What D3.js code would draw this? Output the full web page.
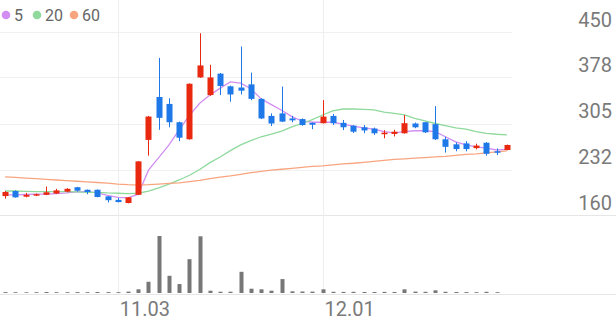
<!DOCTYPE html>
<html>
<head>
<meta charset="utf-8">
<script src="https://cdn.jsdelivr.net/npm/d3@7"></script>
<style>
  body { margin: 0; background: #fff; }
  svg { display: block; font-family: Roboto, "Noto Sans", sans-serif; }
</style>
</head>
<body>
<div id="chart"></div>
<script>
// 일자 (50 거래일)
const dates = [
  '10.17', '10.20', '10.21', '10.22', '10.23', '10.24', '10.27', '10.28', '10.29', '10.30',
  '10.31', '11.03', '11.04', '11.05', '11.06', '11.07', '11.10', '11.11', '11.12', '11.13',
  '11.14', '11.17', '11.18', '11.19', '11.20', '11.21', '11.24', '11.25', '11.26', '11.27',
  '11.28', '12.01', '12.02', '12.03', '12.04', '12.05', '12.08', '12.09', '12.10', '12.11',
  '12.12', '12.15', '12.16', '12.17', '12.18', '12.19', '12.22', '12.23', '12.24', '12.26'
];
const tickLabels = ['11.03', '12.01'];
const priceTicks = [160, 232, 305, 378, 450];

// 시가 / 종가 / 고가 / 저가
const openPrices = [190, 198, 189, 191, 192, 194, 197, 204, 200, 200,
  189.5, 184, 179, 192, 279, 347, 336, 307, 280, 378,
  350, 384, 364, 362, 367, 344, 317, 321, 313, 312,
  306, 305.5, 317, 306, 301.5, 299, 297, 288, 288.5, 289.5,
  305, 307, 304, 280, 272, 273.5, 266, 274.5, 261, 263];
const closePrices = [196.5, 188, 192, 193, 196, 199, 201.5, 198.5, 196.5, 188.5,
  183.5, 180.5, 188, 245, 316, 314, 307, 282.5, 368, 397,
  378, 364.5, 351, 357, 344, 313, 305, 308, 310, 302.5,
  303, 316, 305.5, 299, 292, 294, 289.5, 290.5, 292, 305.5,
  299, 291, 280, 268, 264.5, 264.5, 270, 257, 259, 271];
const highPrices = [198, 199, 195, 194, 205, 201.5, 202.5, 204.5, 200.5, 200.5,
  190, 187, 188.5, 245.5, 317, 409, 345, 308, 368.5, 448,
  398, 385, 365, 427, 385.5, 345, 321, 363.5, 317, 313,
  306.5, 342, 320, 310.5, 302.5, 302.5, 298.5, 294.5, 295, 318.5,
  306.5, 307.5, 332.5, 284, 275, 277, 273, 275.5, 265.5, 271.5];
const lowPrices = [186, 187.5, 188, 190, 191.5, 193.5, 196, 197, 193, 188,
  180, 180, 178.5, 191.5, 254, 295, 299, 277, 279.5, 377.5,
  349, 350, 339.5, 351, 342, 312, 301, 307.5, 307, 301.5,
  296, 305, 302.5, 294.5, 290, 289.5, 287, 281.5, 284.5, 289,
  297.5, 290, 279, 259, 261, 261, 264, 254, 255, 262.5];

// 이동평균선
const ma5 = [192, 192, 192.5, 193, 193, 194, 195, 196.5, 197, 195,
  191, 188, 187, 193, 231, 251, 271, 295, 318, 337,
  350, 361, 371, 369, 360, 344, 335, 326, 316, 309,
  307, 307, 307, 304, 301, 298, 296, 292, 290, 292,
  293.5, 293.5, 292, 284, 276, 271, 268, 266, 263, 264];
const ma20 = [198, 198, 197.5, 197, 197, 197, 197, 196.5, 196, 196,
  195, 194.5, 194, 194.5, 198, 203, 209, 215.5, 223, 232,
  243, 252, 262, 271, 278, 284, 288, 293, 299.5, 305,
  311, 318.5, 325, 328, 328, 327.5, 326.5, 323, 321, 318.5,
  313, 309, 305, 301.5, 298, 296, 292, 289.5, 288, 287];
const ma60 = [220.5, 219.5, 218.5, 217.5, 216.5, 215.5, 214.5, 213.5, 212.5, 211.5,
  210.5, 209, 208, 207.5, 208, 209, 210, 211, 213, 215,
  217.5, 220, 222, 224.5, 227, 229, 231, 232.5, 234, 235.5,
  237, 238, 239.5, 241, 242, 243.5, 245, 246.5, 248, 249,
  250, 251, 252, 253, 254.5, 256, 257, 258.5, 260, 261.5];

// 거래량
const volume = [9, 8, 7, 8, 10, 8, 8, 9, 8, 10,
  9, 8, 14, 37, 113, 573, 173, 90, 340, 570,
  23, 13, 13, 213, 43, 37, 23, 140, 17, 15,
  14, 37, 12, 11, 12, 10, 10, 11, 10, 37,
  14, 12, 27, 12, 10, 9, 8, 12, 8, 0];

const maSeries = [
  { name: '5', values: ma5, color: '#d28ef2' },
  { name: '20', values: ma20, color: '#8fd99c' },
  { name: '60', values: ma60, color: '#f8a57f' }
];

const upColor = '#e8290f';
const downColor = '#1f78e8';
const width = 616, height = 321;

const svg = d3.select('#chart').append('svg')
  .attr('width', width)
  .attr('height', height);

const x = d3.scaleBand().domain(dates).range([0, 512]);
const y = d3.scaleLinear().domain([160, 450]).range([215, 32]);
const yVol = d3.scaleLinear().domain([0, d3.max(volume)]).range([293, 236]);
const cx = d => x(d) + x.bandwidth() / 2;

// 가로 격자
svg.append('g')
  .selectAll('line')
  .data(priceTicks.filter(t => t !== 160))
  .join('line')
  .attr('x1', 0).attr('x2', 512)
  .attr('y1', d => Math.round(y(d)) + 0.5)
  .attr('y2', d => Math.round(y(d)) + 0.5)
  .attr('stroke', '#f0f0f0');

svg.append('line')
  .attr('x1', 0).attr('x2', width)
  .attr('y1', Math.round(y(160)) + 0.5).attr('y2', Math.round(y(160)) + 0.5)
  .attr('stroke', '#e6e6e6');

svg.append('line')
  .attr('x1', 0).attr('x2', width)
  .attr('y1', 294.5).attr('y2', 294.5)
  .attr('stroke', '#e6e6e6');

// 세로 격자
svg.append('g')
  .selectAll('line')
  .data(tickLabels)
  .join('line')
  .attr('x1', d => Math.round(cx(d)) + 0.5)
  .attr('x2', d => Math.round(cx(d)) + 0.5)
  .attr('y1', 0).attr('y2', 294)
  .attr('stroke', '#eeeeee');

// 이동평균선
const line = d3.line()
  .x((d, i) => cx(dates[i]))
  .y(d => y(d));

svg.append('g')
  .selectAll('path')
  .data(maSeries)
  .join('path')
  .attr('d', d => line(d.values))
  .attr('fill', 'none')
  .attr('stroke', d => d.color)
  .attr('stroke-width', 1.3);

// 캔들
const candles = dates.map((d, i) => ({
  date: d,
  open: openPrices[i],
  close: closePrices[i],
  high: highPrices[i],
  low: lowPrices[i]
}));
const bodyW = 6;

const cg = svg.append('g')
  .selectAll('g')
  .data(candles)
  .join('g')
  .attr('fill', d => d.close >= d.open ? upColor : downColor)
  .attr('stroke', d => d.close >= d.open ? upColor : downColor);

cg.append('line')
  .attr('x1', d => Math.round(cx(d.date)) + 0.5)
  .attr('x2', d => Math.round(cx(d.date)) + 0.5)
  .attr('y1', d => y(d.high))
  .attr('y2', d => y(d.low))
  .attr('stroke-width', 1);

cg.append('rect')
  .attr('x', d => Math.round(cx(d.date)) + 0.5 - bodyW / 2)
  .attr('width', bodyW)
  .attr('y', d => y(Math.max(d.open, d.close)))
  .attr('height', d => Math.max(1.5, Math.abs(y(d.open) - y(d.close))))
  .attr('stroke', 'none');

// 거래량
svg.append('g')
  .selectAll('rect')
  .data(volume)
  .join('rect')
  .attr('x', (d, i) => Math.round(cx(dates[i])) + 0.5 - 2)
  .attr('width', 4)
  .attr('y', d => yVol(d))
  .attr('height', d => 293 - yVol(d))
  .attr('fill', '#777777');

// Y축 라벨
const yAxis = svg.append('g')
  .attr('transform', 'translate(612,0)')
  .call(d3.axisLeft(y).tickValues(priceTicks).tickSize(0).tickPadding(0).tickFormat(d3.format('d')));
yAxis.select('.domain').remove();
yAxis.selectAll('text')
  .attr('dy', -6)
  .attr('fill', '#7a7a7a')
  .attr('font-size', 20)
  .attr('font-family', 'Roboto, sans-serif');

// X축 라벨
const xAxis = svg.append('g')
  .attr('transform', 'translate(0,294)')
  .call(d3.axisBottom(x).tickValues(tickLabels).tickSize(0).tickPadding(0));
xAxis.select('.domain').remove();
xAxis.selectAll('text')
  .attr('text-anchor', 'start')
  .attr('x', 2)
  .attr('y', 22)
  .attr('dy', 0)
  .attr('fill', '#7a7a7a')
  .attr('font-size', 20)
  .attr('font-family', 'Roboto, sans-serif');

// 범례
const legendX = [6, 37, 74];
const legend = svg.append('g')
  .selectAll('g')
  .data(maSeries)
  .join('g')
  .attr('transform', (d, i) => `translate(${legendX[i]},15)`);
legend.append('circle')
  .attr('r', 4.3)
  .attr('fill', d => d.color);
legend.append('text')
  .attr('x', 8)
  .attr('y', 5.5)
  .attr('font-size', 16)
  .attr('fill', '#666')
  .text(d => d.name);
</script>
</body>
</html>
